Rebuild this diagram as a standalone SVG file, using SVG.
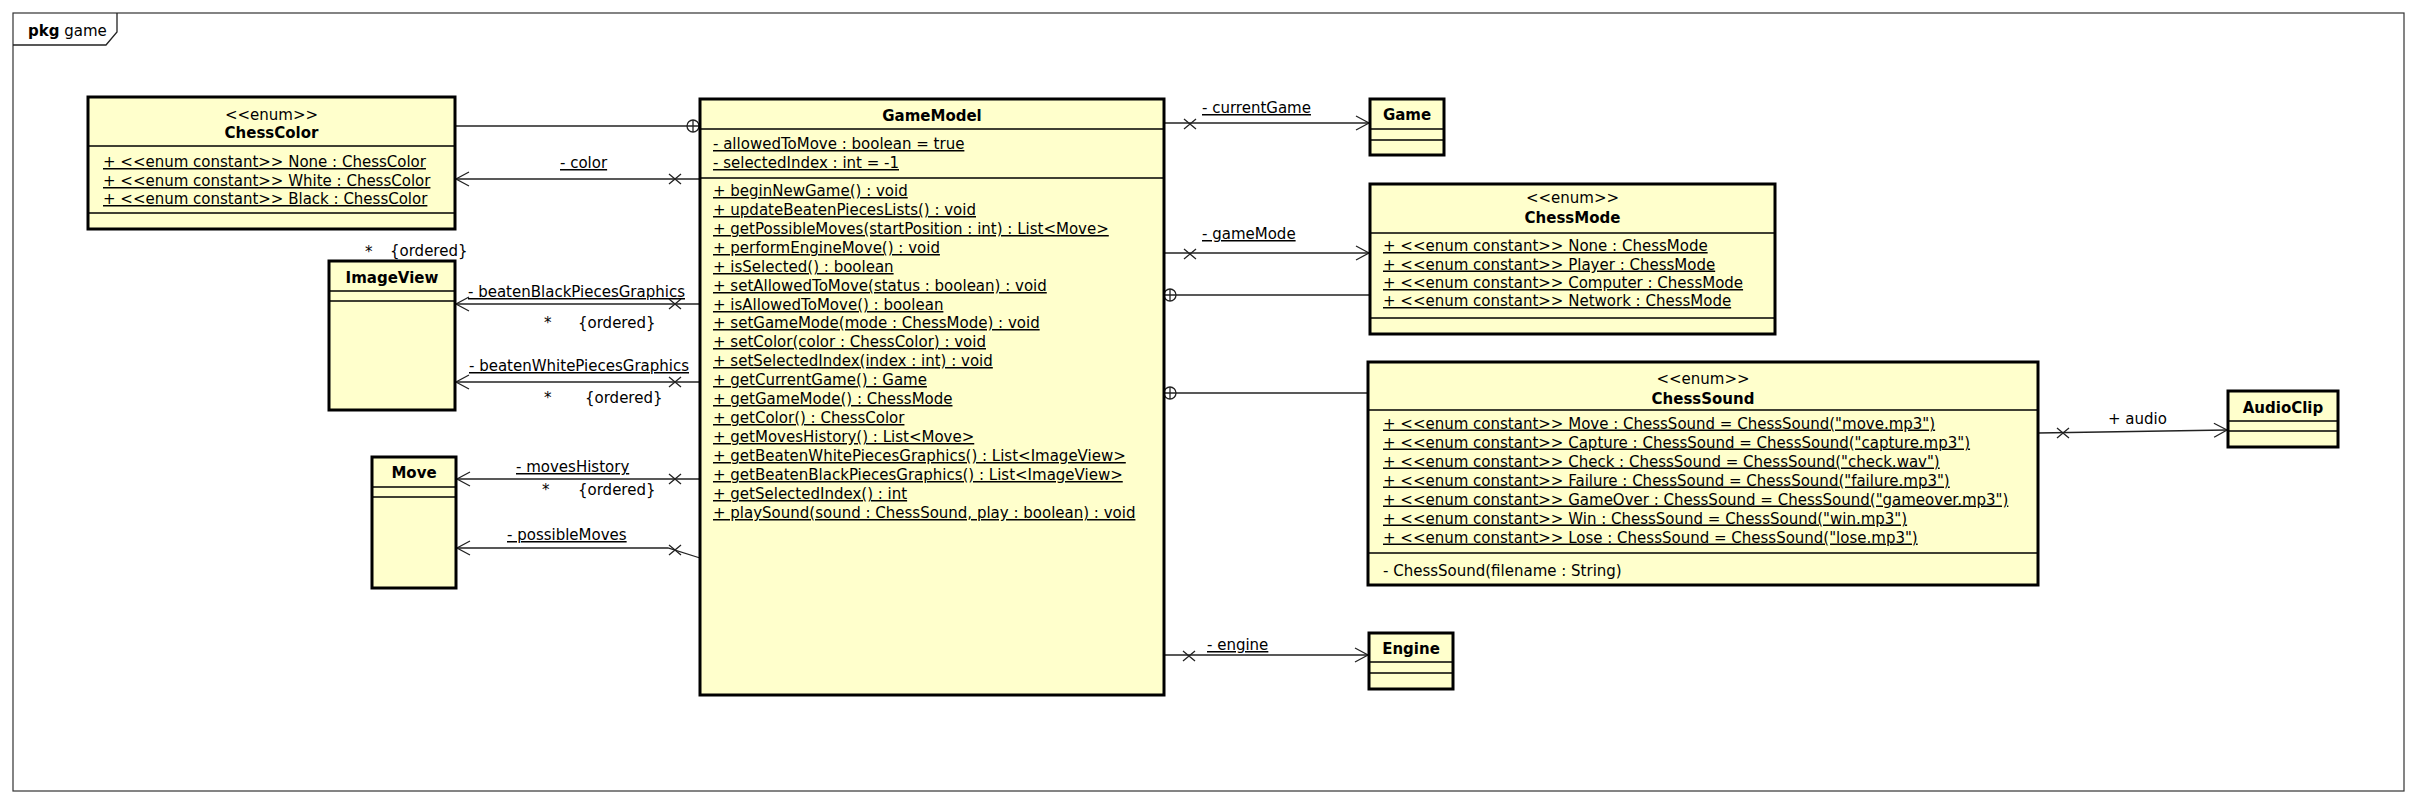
<svg xmlns="http://www.w3.org/2000/svg" width="2416" height="802" viewBox="0 0 2416 802">
<style>
text{font-family:"DejaVu Sans","Liberation Sans",sans-serif;font-size:15px;fill:#000}
.t{font-weight:bold;text-anchor:middle}
.st{text-anchor:middle}
.u{text-decoration:underline}
.box{fill:#FFFFCC;stroke:#000;stroke-width:3}
.div{stroke:#000;stroke-width:1.5;fill:none}
.ln{stroke:#222;stroke-width:1.3;fill:none}
.frame{fill:#fff;stroke:#333;stroke-width:1.2}
</style>
<defs>
<marker id="open" markerUnits="userSpaceOnUse" markerWidth="20" markerHeight="20" viewBox="-15 -10 20 20" refX="0" refY="0" orient="auto" overflow="visible">
<path d="M-13,-7 L0,0 L-13,7" fill="none" stroke="#222" stroke-width="1.3"/>
</marker>
<path id="xm" d="M-6,-5 L6,5 M-6,5 L6,-5" fill="none" stroke="#222" stroke-width="1.3"/>
<g id="nest"><circle cx="0" cy="0" r="6" fill="#fff" stroke="#222" stroke-width="1.3"/><path d="M-6,0 H6 M0,-6 V6" stroke="#222" stroke-width="1.3"/></g>
</defs>
<rect width="2416" height="802" fill="#fff"/>
<g id="frame">
<rect class="frame" x="13" y="13" width="2391" height="778"/>
<path class="ln" d="M13,45 H106 L117,32 V13"/>
<text x="28" y="36"><tspan font-weight="bold">pkg</tspan> game</text>
</g>
<g id="connectors">
<line class="ln" x1="455" y1="126" x2="687" y2="126"/>
<use href="#nest" x="693" y="126"/>
<line class="ln" x1="700" y1="179" x2="456" y2="179" marker-end="url(#open)"/>
<use href="#xm" x="675" y="179"/>
<text class="u" x="560" y="168">- color</text>
<line class="ln" x1="700" y1="304" x2="456" y2="304" marker-end="url(#open)"/>
<use href="#xm" x="675" y="304"/>
<text class="u" x="468" y="297">- beatenBlackPiecesGraphics</text>
<text x="544" y="328">*</text>
<text x="578" y="328">{ordered}</text>
<line class="ln" x1="700" y1="382" x2="456" y2="382" marker-end="url(#open)"/>
<use href="#xm" x="675" y="382"/>
<text class="u" x="469" y="371">- beatenWhitePiecesGraphics</text>
<text x="544" y="403">*</text>
<text x="585" y="403">{ordered}</text>
<line class="ln" x1="700" y1="479" x2="457" y2="479" marker-end="url(#open)"/>
<use href="#xm" x="675" y="479"/>
<text class="u" x="516" y="472">- movesHistory</text>
<text x="542" y="495">*</text>
<text x="578" y="495">{ordered}</text>
<path class="ln" d="M700,558 L668,548 H457" marker-end="url(#open)"/>
<use href="#xm" x="675" y="550"/>
<text class="u" x="507" y="540">- possibleMoves</text>
<line class="ln" x1="1164" y1="123" x2="1369" y2="123" marker-end="url(#open)"/>
<use href="#xm" x="1190" y="124"/>
<text class="u" x="1202" y="113">- currentGame</text>
<line class="ln" x1="1164" y1="253" x2="1369" y2="253" marker-end="url(#open)"/>
<use href="#xm" x="1190" y="254"/>
<text class="u" x="1202" y="239">- gameMode</text>
<line class="ln" x1="1176" y1="295" x2="1370" y2="295"/>
<use href="#nest" x="1170" y="295"/>
<line class="ln" x1="1176" y1="393" x2="1368" y2="393"/>
<use href="#nest" x="1170" y="393"/>
<line class="ln" x1="1164" y1="655" x2="1368" y2="655" marker-end="url(#open)"/>
<use href="#xm" x="1189" y="656"/>
<text class="u" x="1207" y="650">- engine</text>
<line class="ln" x1="2038" y1="433" x2="2227" y2="430" marker-end="url(#open)"/>
<use href="#xm" x="2063" y="433"/>
<text x="2108" y="424">+ audio</text>
</g>
<g id="ChessColor">
<rect class="box" x="88" y="97" width="367" height="132"/>
<text class="st" x="271.5" y="120">&lt;&lt;enum&gt;&gt;</text>
<text class="t" x="271.5" y="138">ChessColor</text>
<line class="div" x1="88" y1="146" x2="455" y2="146"/>
<text class="u" x="103" y="167">+ &lt;&lt;enum constant&gt;&gt; None : ChessColor</text>
<text class="u" x="103" y="186">+ &lt;&lt;enum constant&gt;&gt; White : ChessColor</text>
<text class="u" x="103" y="204">+ &lt;&lt;enum constant&gt;&gt; Black : ChessColor</text>
<line class="div" x1="88" y1="213" x2="455" y2="213"/>
</g>
<g id="ImageView">
<rect class="box" x="329" y="261" width="126" height="149"/>
<text class="t" x="392" y="283">ImageView</text>
<line class="div" x1="329" y1="291" x2="455" y2="291"/>
<line class="div" x1="329" y1="301" x2="455" y2="301"/>
</g>
<g id="Move">
<rect class="box" x="372" y="457" width="84" height="131"/>
<text class="t" x="414" y="478">Move</text>
<line class="div" x1="372" y1="487" x2="456" y2="487"/>
<line class="div" x1="372" y1="497" x2="456" y2="497"/>
</g>
<g id="GameModel">
<rect class="box" x="700" y="99" width="464" height="596"/>
<text class="t" x="932" y="121">GameModel</text>
<line class="div" x1="700" y1="129" x2="1164" y2="129"/>
<text class="u" x="713" y="149">- allowedToMove : boolean = true</text>
<text class="u" x="713" y="168">- selectedIndex : int = -1</text>
<line class="div" x1="700" y1="178" x2="1164" y2="178"/>
<text class="u" x="713" y="196">+ beginNewGame() : void</text>
<text class="u" x="713" y="215">+ updateBeatenPiecesLists() : void</text>
<text class="u" x="713" y="234">+ getPossibleMoves(startPosition : int) : List&lt;Move&gt;</text>
<text class="u" x="713" y="253">+ performEngineMove() : void</text>
<text class="u" x="713" y="272">+ isSelected() : boolean</text>
<text class="u" x="713" y="291">+ setAllowedToMove(status : boolean) : void</text>
<text class="u" x="713" y="310">+ isAllowedToMove() : boolean</text>
<text class="u" x="713" y="328">+ setGameMode(mode : ChessMode) : void</text>
<text class="u" x="713" y="347">+ setColor(color : ChessColor) : void</text>
<text class="u" x="713" y="366">+ setSelectedIndex(index : int) : void</text>
<text class="u" x="713" y="385">+ getCurrentGame() : Game</text>
<text class="u" x="713" y="404">+ getGameMode() : ChessMode</text>
<text class="u" x="713" y="423">+ getColor() : ChessColor</text>
<text class="u" x="713" y="442">+ getMovesHistory() : List&lt;Move&gt;</text>
<text class="u" x="713" y="461">+ getBeatenWhitePiecesGraphics() : List&lt;ImageView&gt;</text>
<text class="u" x="713" y="480">+ getBeatenBlackPiecesGraphics() : List&lt;ImageView&gt;</text>
<text class="u" x="713" y="499">+ getSelectedIndex() : int</text>
<text class="u" x="713" y="518">+ playSound(sound : ChessSound, play : boolean) : void</text>
</g>
<g id="Game">
<rect class="box" x="1370" y="99" width="74" height="56"/>
<text class="t" x="1407" y="120">Game</text>
<line class="div" x1="1370" y1="129" x2="1444" y2="129"/>
<line class="div" x1="1370" y1="140" x2="1444" y2="140"/>
</g>
<g id="ChessMode">
<rect class="box" x="1370" y="184" width="405" height="150"/>
<text class="st" x="1572.5" y="203">&lt;&lt;enum&gt;&gt;</text>
<text class="t" x="1572.5" y="223">ChessMode</text>
<line class="div" x1="1370" y1="233" x2="1775" y2="233"/>
<text class="u" x="1383" y="251">+ &lt;&lt;enum constant&gt;&gt; None : ChessMode</text>
<text class="u" x="1383" y="269.5">+ &lt;&lt;enum constant&gt;&gt; Player : ChessMode</text>
<text class="u" x="1383" y="288">+ &lt;&lt;enum constant&gt;&gt; Computer : ChessMode</text>
<text class="u" x="1383" y="306">+ &lt;&lt;enum constant&gt;&gt; Network : ChessMode</text>
<line class="div" x1="1370" y1="318" x2="1775" y2="318"/>
</g>
<g id="ChessSound">
<rect class="box" x="1368" y="362" width="670" height="223"/>
<text class="st" x="1703" y="384">&lt;&lt;enum&gt;&gt;</text>
<text class="t" x="1703" y="404">ChessSound</text>
<line class="div" x1="1368" y1="410" x2="2038" y2="410"/>
<text class="u" x="1383" y="428.5">+ &lt;&lt;enum constant&gt;&gt; Move : ChessSound = ChessSound("move.mp3")</text>
<text class="u" x="1383" y="447.5">+ &lt;&lt;enum constant&gt;&gt; Capture : ChessSound = ChessSound("capture.mp3")</text>
<text class="u" x="1383" y="466.5">+ &lt;&lt;enum constant&gt;&gt; Check : ChessSound = ChessSound("check.wav")</text>
<text class="u" x="1383" y="485.5">+ &lt;&lt;enum constant&gt;&gt; Failure : ChessSound = ChessSound("failure.mp3")</text>
<text class="u" x="1383" y="504.5">+ &lt;&lt;enum constant&gt;&gt; GameOver : ChessSound = ChessSound("gameover.mp3")</text>
<text class="u" x="1383" y="523.5">+ &lt;&lt;enum constant&gt;&gt; Win : ChessSound = ChessSound("win.mp3")</text>
<text class="u" x="1383" y="542.5">+ &lt;&lt;enum constant&gt;&gt; Lose : ChessSound = ChessSound("lose.mp3")</text>
<line class="div" x1="1368" y1="553" x2="2038" y2="553"/>
<text x="1383" y="576">- ChessSound(filename : String)</text>
</g>
<g id="Engine">
<rect class="box" x="1369" y="633" width="84" height="56"/>
<text class="t" x="1411" y="654">Engine</text>
<line class="div" x1="1369" y1="662" x2="1453" y2="662"/>
<line class="div" x1="1369" y1="673" x2="1453" y2="673"/>
</g>
<g id="AudioClip">
<rect class="box" x="2228" y="391" width="110" height="56"/>
<text class="t" x="2283" y="413">AudioClip</text>
<line class="div" x1="2228" y1="421" x2="2338" y2="421"/>
<line class="div" x1="2228" y1="431" x2="2338" y2="431"/>
</g>
<g id="connector-labels">
<text x="365" y="257">*</text>
<text x="390" y="256">{ordered}</text>
</g>
</svg>
